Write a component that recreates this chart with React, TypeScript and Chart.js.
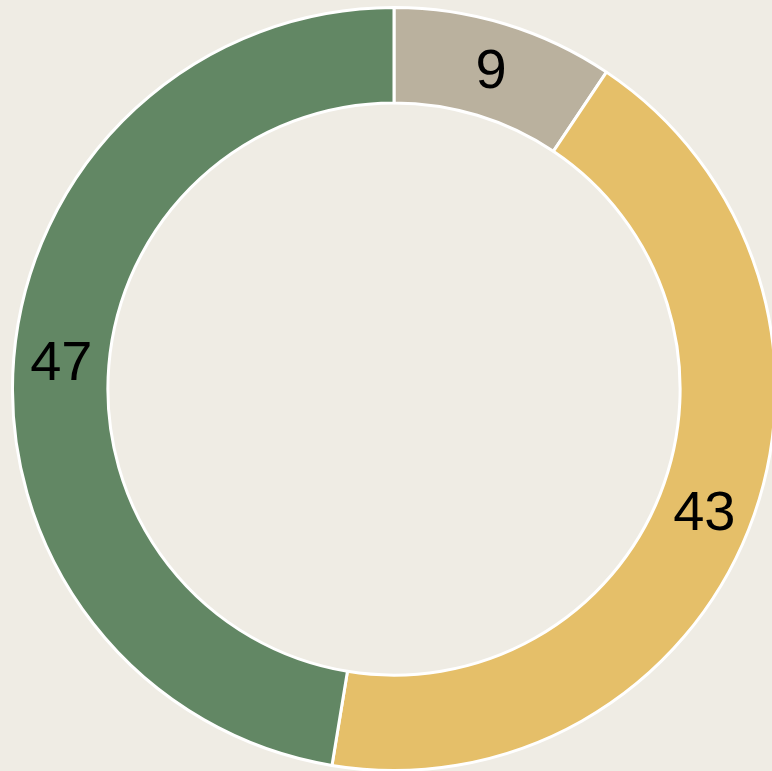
import React, { useEffect, useRef } from "react";
import { Chart, registerables } from "chart.js";

Chart.register(...registerables);

const labels = ["A", "B", "C"];
const values = [9.4, 43.2, 47.4];
const colors = ["#bab19e", "#e5bf69", "#628764"];
const BG = "#efece4";

const labelPlugin = {
  id: "sliceLabels",
  afterDatasetsDraw(chart: any) {
    const ctx = chart.ctx;
    const meta = chart.getDatasetMeta(0);
    ctx.save();
    ctx.fillStyle = "#000";
    ctx.font = "56px 'Liberation Sans', Arial, sans-serif";
    ctx.textAlign = "center";
    ctx.textBaseline = "middle";
    meta.data.forEach((el: any, i: number) => {
      const p = el.tooltipPosition();
      ctx.fillText(String(Math.round(values[i])), p.x, p.y + 3);
    });
    ctx.restore();
  },
};

export default function App() {
  const ref = useRef<HTMLCanvasElement>(null);
  useEffect(() => {
    if (!ref.current) return;
    const chart = new Chart(ref.current, {
      type: "doughnut",
      data: {
        labels,
        datasets: [
          {
            data: values,
            backgroundColor: colors,
            borderColor: "#ffffff",
            borderWidth: 3,
          },
        ],
      },
      options: {
        animation: false,
        responsive: false,
        cutout: "75%",
        plugins: { legend: { display: false }, tooltip: { enabled: false } },
        layout: { padding: 0 },
      },
      plugins: [labelPlugin],
    });
    return () => chart.destroy();
  }, []);
  return (
    <div style={{ position: "fixed", inset: 0, background: BG, overflow: "hidden" }}>
      <canvas
        ref={ref}
        width={766}
        height={766}
        style={{ position: "absolute", left: 11, top: 6, width: 766, height: 766 }}
      />
    </div>
  );
}
